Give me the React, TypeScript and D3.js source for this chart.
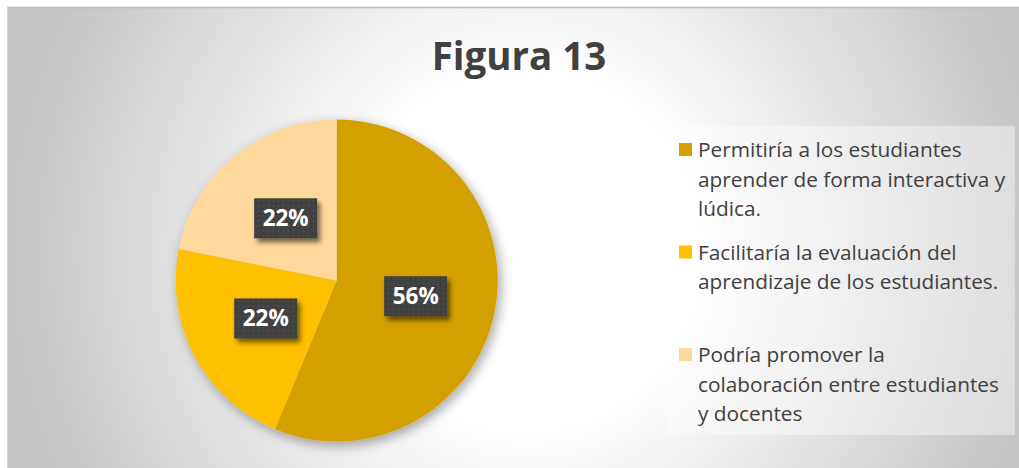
import React from "react";
import * as d3 from "d3";

const title = "Figura 13";
const categories = [
  "Permitiría a los estudiantes aprender de forma interactiva y lúdica.",
  "Facilitaría la evaluación del aprendizaje de los estudiantes.",
  "Podría promover la colaboración entre estudiantes y docentes",
];
const legendLines = [
  ["Permitiría a los estudiantes", "aprender de forma interactiva y", "lúdica."],
  ["Facilitaría la evaluación del", "aprendizaje de los estudiantes."],
  ["Podría promover la", "colaboración entre estudiantes", "y docentes"],
];
const values = [18, 7, 7];
const colors = ["#D4A000", "#FFC000", "#FFD89B"];

const W = 1019;
const H = 468;
const FONT = "'Open Sans', 'Noto Sans', sans-serif";

export default function App() {
  const cx = 336.7;
  const cy = 280.5;
  const r = 161;
  const total = d3.sum(values);
  const pie = d3.pie<number>().sort(null).value((d) => d);
  const arcs = pie(values);
  const arcGen = d3.arc<d3.PieArcDatum<number>>().innerRadius(0).outerRadius(r);
  const labelArc = d3.arc<d3.PieArcDatum<number>>().innerRadius(r * 0.5).outerRadius(r * 0.5);

  const boxW = 63;
  const boxH = 40;

  const legendX = 666;
  const legendY = 126;
  const legendW = 349;
  const legendH = 309;
  const slot = 102.5;
  const lineH = 29.7;

  return (
    <svg
      width={W}
      height={H}
      style={{ position: "absolute", left: 0, top: 0, display: "block" }}
      xmlns="http://www.w3.org/2000/svg"
    >
      <defs>
        <radialGradient
          id="bg"
          cx="0.5"
          cy="0.5"
          r="0.5"
          gradientTransform="translate(0.5,0.5) scale(1,2.2) translate(-0.5,-0.5)"
        >
          <stop offset="0" stopColor="#ffffff" />
          <stop offset="0.33" stopColor="#ffffff" />
          <stop offset="1" stopColor="#c4c4c4" />
        </radialGradient>
        <filter id="pieShadow" x="-20%" y="-20%" width="140%" height="140%">
          <feDropShadow dx="3" dy="4" stdDeviation="6" floodColor="#000" floodOpacity="0.35" />
        </filter>
        <filter id="boxShadow" x="-30%" y="-30%" width="170%" height="180%">
          <feDropShadow dx="3" dy="4" stdDeviation="2.5" floodColor="#000" floodOpacity="0.55" />
        </filter>
        <pattern id="dots" width="5" height="5" patternUnits="userSpaceOnUse">
          <rect width="5" height="5" fill="#404040" />
          <rect x="2" y="2" width="1.4" height="1.4" fill="#595959" />
        </pattern>
      </defs>

      <rect x={7} y={7} width={W + 20} height={H + 20} fill="url(#bg)" />
      <line x1={7} y1={7.5} x2={W} y2={7.5} stroke="#b8b8b8" strokeWidth={1.5} />
      <line x1={7.5} y1={7} x2={7.5} y2={H} stroke="#d6d6d6" strokeWidth={1} />

      <text
        x={519}
        y={70}
        textAnchor="middle"
        fontFamily={FONT}
        fontWeight={700}
        fontSize={38.5}
        fill="#404040"
      >
        {title}
      </text>

      <g transform={`translate(${cx},${cy})`}>
        <g filter="url(#pieShadow)">
          {arcs.map((a, i) => (
            <path key={i} d={arcGen(a) || ""} fill={colors[i]} />
          ))}
        </g>
        {arcs.map((a, i) => {
          const [lx, ly] = labelArc.centroid(a);
          const pct = Math.round((a.data / total) * 100) + "%";
          return (
            <g key={"l" + i} transform={`translate(${lx},${ly})`}>
              <rect
                x={-boxW / 2}
                y={-boxH / 2}
                width={boxW}
                height={boxH}
                fill="url(#dots)"
                filter="url(#boxShadow)"
              />
              <text
                x={0}
                y={8}
                textAnchor="middle"
                fontFamily={FONT}
                fontWeight={700}
                fontSize={22.5}
                fill="#ffffff"
              >
                {pct}
              </text>
            </g>
          );
        })}
      </g>

      <rect x={legendX} y={legendY} width={legendW} height={legendH} fill="#ffffff" fillOpacity={0.4} />
      {categories.map((c, i) => {
        const base = 157 + i * slot;
        return (
          <g key={c}>
            <rect x={679} y={base - 14} width={13} height={13} fill={colors[i]} />
            <text fontFamily={FONT} fontSize={20.8} fill="#404040">
              {legendLines[i].map((ln, j) => (
                <tspan key={j} x={698} y={base + j * lineH}>
                  {ln}
                </tspan>
              ))}
            </text>
          </g>
        );
      })}
    </svg>
  );
}
